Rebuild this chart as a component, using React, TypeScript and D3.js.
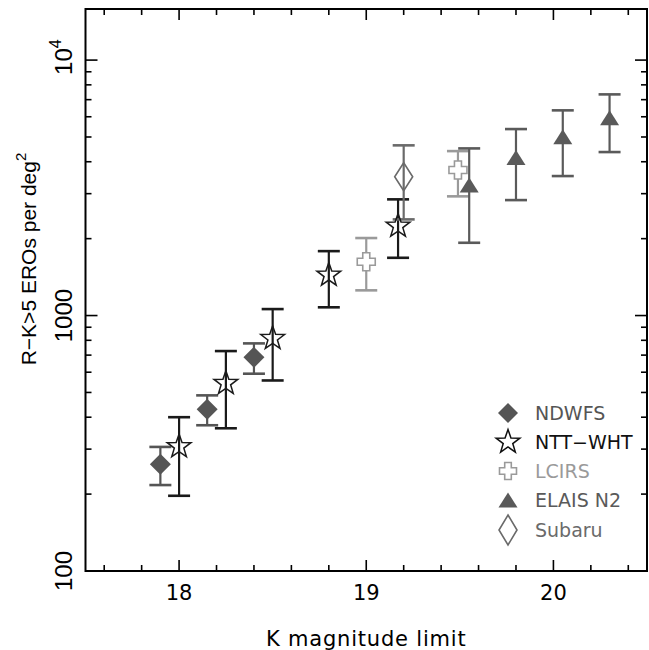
import React from "react";
import * as d3 from "d3";

// ---- data ----
const ndwfsK = [17.9, 18.15, 18.4];
const ndwfsN = [262, 430, 686];
const ndwfsHi = [306, 487, 778];
const ndwfsLo = [217, 372, 592];

const nttK = [18.0, 18.25, 18.5, 18.8, 19.17];
const nttN = [307, 543, 814, 1441, 2240];
const nttHi = [400, 726, 1060, 1787, 2850];
const nttLo = [197, 362, 557, 1077, 1683];

const lcirsK = [19.0, 19.49];
const lcirsN = [1624, 3711];
const lcirsHi = [2011, 4403];
const lcirsLo = [1255, 2928];

const elaisK = [19.55, 19.8, 20.05, 20.3];
const elaisN = [3242, 4160, 5010, 5946];
const elaisHi = [4511, 5370, 6357, 7341];
const elaisLo = [1927, 2831, 3516, 4365];

const subaruK = [19.2];
const subaruN = [3493];
const subaruHi = [4637];
const subaruLo = [2379];

const xMajor = [18, 19, 20];
const xMajorLabels = ["18", "19", "20"];
const yMajor = [100, 1000, 10000];

const legendNames = ["NDWFS", "NTT\u2212WHT", "LCIRS", "ELAIS N2", "Subaru"];

// ---- geometry ----
const W = 649, H = 650;
const L = 85.5, R = 647, T = 9, B = 571;

const x = d3.scaleLinear().domain([17.5, 20.5]).range([L, R]);
const y = d3.scaleLog().domain([100, Math.pow(10, 4.2)]).range([B, T]);

const diamond = (cx: number, cy: number, hw: number, hh: number) =>
  `M${cx},${cy - hh}L${cx + hw},${cy}L${cx},${cy + hh}L${cx - hw},${cy}Z`;
const star = (cx: number, cy: number, r: number) => {
  const ri = r * 0.4;
  const pts: string[] = [];
  for (let i = 0; i < 10; i++) {
    const a = -Math.PI / 2 + (i * Math.PI) / 5;
    const rr = i % 2 === 0 ? r : ri;
    pts.push(`${cx + rr * Math.cos(a)},${cy + rr * Math.sin(a)}`);
  }
  return "M" + pts.join("L") + "Z";
};
const plus = (cx: number, cy: number, a: number, l: number) =>
  `M${cx - a},${cy - l}H${cx + a}V${cy - a}H${cx + l}V${cy + a}H${cx + a}V${cy + l}H${cx - a}V${cy + a}H${cx - l}V${cy - a}H${cx - a}Z`;
const triangle = (cx: number, cy: number, w: number, h: number) =>
  `M${cx},${cy - h / 2}L${cx + w / 2},${cy + h / 2}L${cx - w / 2},${cy + h / 2}Z`;

const C_ND = "#555555";
const C_NTT = "#1a1a1a";
const C_LC = "#9a9a9a";
const C_EL = "#5a5a5a";
const C_SU = "#6a6a6a";

function ErrBars({ k, hi, lo, color, cap = 11 }: any) {
  return (
    <g stroke={color} strokeWidth={2.2} fill="none">
      {k.map((kk: number, i: number) => (
        <g key={i}>
          <line x1={x(kk)} x2={x(kk)} y1={y(hi[i])} y2={y(lo[i])} />
          <line x1={x(kk) - cap} x2={x(kk) + cap} y1={y(hi[i])} y2={y(hi[i])} strokeWidth={2.6} />
          <line x1={x(kk) - cap} x2={x(kk) + cap} y1={y(lo[i])} y2={y(lo[i])} strokeWidth={2.6} />
        </g>
      ))}
    </g>
  );
}

export default function App() {
  const xMinor = d3.range(17.6, 20.5, 0.2).filter((v) => Math.abs(v - Math.round(v)) > 0.01);
  const yMinor: number[] = [];
  for (const dec of [100, 1000, 10000]) for (let m = 2; m <= 9; m++) {
    const v = dec * m;
    if (v < Math.pow(10, 4.2)) yMinor.push(v);
  }
  const legY = [413, 442, 471, 500, 530];
  const legX = 508;
  const legColors = [C_ND, "#111111", C_LC, C_EL, C_SU];
  const font1 = "'DejaVu Sans', sans-serif";
  const font2 = "'Liberation Sans', Arial, sans-serif";
  return (
    <svg width={W} height={H} style={{ position: "absolute", left: 0, top: 0, background: "#fff" }}>
      <rect x={0} y={0} width={W} height={H} fill="#fff" />
      {/* error bars */}
      <ErrBars k={ndwfsK} hi={ndwfsHi} lo={ndwfsLo} color={C_ND} />
      <ErrBars k={nttK} hi={nttHi} lo={nttLo} color={C_NTT} />
      <ErrBars k={lcirsK} hi={lcirsHi} lo={lcirsLo} color={C_LC} />
      <ErrBars k={elaisK} hi={elaisHi} lo={elaisLo} color={C_EL} />
      <ErrBars k={subaruK} hi={subaruHi} lo={subaruLo} color={C_SU} />
      {/* markers */}
      {ndwfsK.map((k, i) => (
        <path key={"nd" + i} d={diamond(x(k), y(ndwfsN[i]), 10.5, 10.5)} fill={C_ND} />
      ))}
      {nttK.map((k, i) => (
        <path key={"nt" + i} d={star(x(k), y(nttN[i]), 12.5)} fill="none" stroke={C_NTT} strokeWidth={1.5} />
      ))}
      {lcirsK.map((k, i) => (
        <path key={"lc" + i} d={plus(x(k), y(lcirsN[i]), 3.5, 9)} fill="#fff" stroke={C_LC} strokeWidth={1.6} />
      ))}
      {elaisK.map((k, i) => (
        <path key={"el" + i} d={triangle(x(k), y(elaisN[i]), 19, 15)} fill={C_EL} />
      ))}
      {subaruK.map((k, i) => (
        <path key={"su" + i} d={diamond(x(k), y(subaruN[i]), 9, 14)} fill="none" stroke={C_SU} strokeWidth={1.6} />
      ))}
      {/* frame */}
      <rect x={L} y={T} width={R - L} height={B - T} fill="none" stroke="#000" strokeWidth={2} />
      {/* x ticks */}
      <g stroke="#000" strokeWidth={1.6}>
        {xMajor.map((v) => (
          <g key={"xm" + v}>
            <line x1={x(v)} x2={x(v)} y1={B} y2={B - 11} />
            <line x1={x(v)} x2={x(v)} y1={T} y2={T + 11} />
          </g>
        ))}
        {xMinor.map((v) => (
          <g key={"xn" + v}>
            <line x1={x(v)} x2={x(v)} y1={B} y2={B - 6} />
            <line x1={x(v)} x2={x(v)} y1={T} y2={T + 6} />
          </g>
        ))}
        {yMajor.map((v) => (
          <g key={"ym" + v}>
            <line x1={L} x2={L + 12} y1={y(v)} y2={y(v)} />
            <line x1={R} x2={R - 12} y1={y(v)} y2={y(v)} />
          </g>
        ))}
        {yMinor.map((v) => (
          <g key={"yn" + v}>
            <line x1={L} x2={L + 6} y1={y(v)} y2={y(v)} />
            <line x1={R} x2={R - 6} y1={y(v)} y2={y(v)} />
          </g>
        ))}
      </g>
      {/* x tick labels */}
      {xMajor.map((v, i) => (
        <text key={"xl" + v} x={x(v)} y={600} textAnchor="middle" fontFamily={font1} fontSize={21} fill="#000">
          {xMajorLabels[i]}
        </text>
      ))}
      {/* y tick labels */}
      <text transform={`translate(72,${y(100)}) rotate(-90)`} textAnchor="middle" fontFamily={font2} fontSize={24} fill="#000">100</text>
      <text transform={`translate(72,${y(1000)}) rotate(-90)`} textAnchor="middle" fontFamily={font2} fontSize={24} fill="#000">1000</text>
      <text transform={`translate(72,${y(10000) - 3}) rotate(-90)`} textAnchor="middle" fontFamily={font2} fontSize={24} fill="#000">
        10<tspan fontSize={16} dy={-11}>4</tspan>
      </text>
      {/* axis titles */}
      <text x={x(19)} y={646} textAnchor="middle" fontFamily={font1} fontSize={21} letterSpacing={0.8} fill="#000">
        K magnitude limit
      </text>
      <text transform={`translate(36,259) rotate(-90)`} textAnchor="middle" fontFamily={font2} fontSize={21} fill="#000">
        R{"\u2212"}K{">"}5 EROs per deg<tspan fontSize={15} dy={-10}>2</tspan>
      </text>
      {/* legend */}
      <path d={diamond(legX, legY[0], 10, 10)} fill={C_ND} />
      <path d={star(legX, legY[1], 12.5)} fill="#fff" stroke="#111" strokeWidth={1.5} />
      <path d={plus(legX, legY[2], 3.3, 8.5)} fill="#fff" stroke={C_LC} strokeWidth={1.6} />
      <path d={triangle(legX, legY[3], 19, 15)} fill={C_EL} />
      <path d={diamond(legX, legY[4], 9, 15)} fill="none" stroke={C_SU} strokeWidth={1.6} />
      {legendNames.map((n, i) => (
        <text key={n} x={535} y={legY[i] + 7} fontFamily={font1} fontSize={19} fill={legColors[i]}>
          {n}
        </text>
      ))}
    </svg>
  );
}
